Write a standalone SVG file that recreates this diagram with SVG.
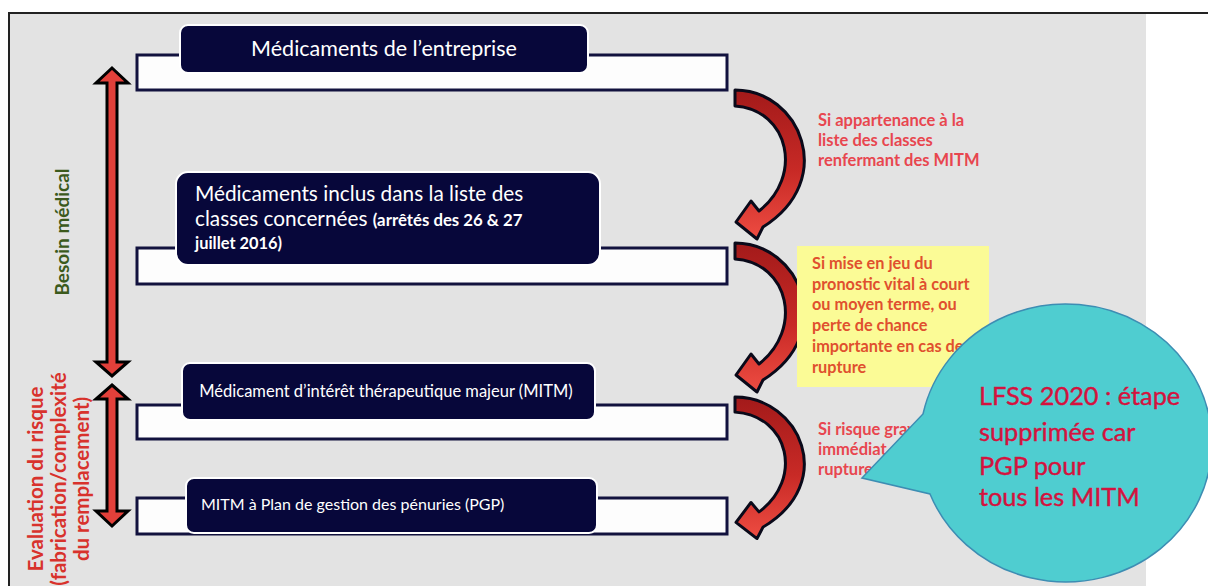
<svg xmlns="http://www.w3.org/2000/svg" width="1208" height="586" viewBox="0 0 1208 586">
<defs>
<style>
.bar{fill:#fdfdfd;stroke:#12123e;stroke-width:3}
.dark{fill:#07073a;stroke:#ffffff;stroke-width:2}
.wt{font-family:Lato,"Liberation Sans",sans-serif;fill:#ffffff}
.lbl{font-family:Lato,"Liberation Sans",sans-serif;font-weight:bold;font-size:16.5px;fill:#e8464f}
.ylw{font-family:Lato,"Liberation Sans",sans-serif;font-weight:bold;font-size:16.3px;fill:#e0502e}
.vert{fill:#e2403a;stroke:#000;stroke-width:3;stroke-linejoin:miter}
.curv{fill:url(#rg);stroke:#0a0a1a;stroke-width:3;stroke-linejoin:round}
</style>
<linearGradient id="rg" x1="0" y1="0" x2="0" y2="1">
<stop offset="0" stop-color="#a31a1a"/>
<stop offset="0.55" stop-color="#c82a26"/>
<stop offset="1" stop-color="#ee4c42"/>
</linearGradient>
<path id="carrow" d="M735,90 C800,90 838,180 763,227 L757,239 L736,222 L751,201 L759,211 C803,177 790,110 735,106 Z"/>
</defs>
<rect x="0" y="0" width="1208" height="586" fill="#ffffff"/>
<rect x="9" y="13" width="1137" height="573" fill="#e3e3e3"/>
<path d="M9,586 L9,13 L1208,13" fill="none" stroke="#222" stroke-width="2"/>

<g id="connectors">
<polygon class="vert" points="112,68 128,83 117,83 117,362 128,362 112,376 96,362 107,362 107,83 96,83"/>
<polygon class="vert" points="112,385 128,399 117,399 117,511 128,511 112,526 96,511 107,511 107,399 96,399"/>
<use href="#carrow" class="curv"/>
<use href="#carrow" class="curv" transform="translate(0,153)"/>
<use href="#carrow" class="curv" transform="translate(0,397) scale(1,0.95) translate(0,-90)"/>
</g>

<g id="label-besoin">
<text transform="translate(69,232) rotate(-90)" text-anchor="middle" font-family="Lato,'Liberation Sans',sans-serif" font-weight="bold" font-size="19" fill="#3b5a1c">Besoin médical</text>
</g>
<g id="label-evaluation" font-family="Lato,'Liberation Sans',sans-serif" font-weight="bold" font-size="20.5" fill="#d8322c" text-anchor="middle">
<text transform="translate(43,479) rotate(-90)">Evaluation du risque</text>
<text transform="translate(66,479) rotate(-90)">(fabrication/complexité</text>
<text transform="translate(89,479) rotate(-90)">du remplacement)</text>
</g>

<g id="node1">
<rect class="bar" x="137" y="55" width="590" height="35"/>
<rect class="dark" x="180" y="25" width="408" height="48" rx="8"/>
<text class="wt" x="384" y="56" text-anchor="middle" font-size="21.5">Médicaments de l’entreprise</text>
</g>
<g id="node2">
<rect class="bar" x="137" y="248" width="590" height="36"/>
<rect class="dark" x="176" y="172" width="424" height="93" rx="12"/>
<text class="wt" x="195" y="201" font-size="20.8">Médicaments inclus dans la liste des</text>
<text class="wt" x="195" y="226" font-size="20.8">classes concernées <tspan font-size="16.8" font-weight="bold">(arrêtés des 26 &amp; 27</tspan></text>
<text class="wt" x="195" y="249" font-size="16.4" font-weight="bold">juillet 2016)</text>
</g>
<g id="node3">
<rect class="bar" x="137" y="405" width="590" height="34"/>
<rect class="dark" x="182" y="363" width="413" height="57" rx="8"/>
<text class="wt" x="386" y="397" text-anchor="middle" font-size="16.5">Médicament d’intérêt thérapeutique majeur (MITM)</text>
</g>
<g id="node4">
<rect class="bar" x="137" y="498" width="590" height="36"/>
<rect class="dark" x="186" y="478" width="411" height="55" rx="8"/>
<text class="wt" x="201" y="510" font-size="16">MITM à Plan de gestion des pénuries (PGP)</text>
</g>

<g id="label-1" class="lbl">
<text x="818" y="126">Si appartenance à la</text>
<text x="818" y="146">liste des classes</text>
<text x="818" y="166">renfermant des MITM</text>
</g>
<g id="label-2">
<rect x="797" y="246" width="192" height="141" fill="#fbfb96"/>
<g class="ylw">
<text x="812" y="269">Si mise en jeu du</text>
<text x="812" y="290">pronostic vital à court</text>
<text x="812" y="310">ou moyen terme, ou</text>
<text x="812" y="331">perte de chance</text>
<text x="812" y="352">importante en cas de</text>
<text x="812" y="373">rupture</text>
</g>
</g>
<g id="label-3" class="lbl">
<text x="818" y="435">Si risque grav</text>
<text x="818" y="455">immédiat e</text>
<text x="818" y="475">rupture</text>
</g>
<g id="callout">
<path d="M862,478 L923,414 A146,139 0 1 1 930,494 Z" fill="#4fcdd0" stroke="#3d8db3" stroke-width="1.5"/>
<g font-family="Lato,'Liberation Sans',sans-serif" font-size="25.3" fill="#d4123e" stroke="#d4123e" stroke-width="0.4">
<text x="979" y="405">LFSS 2020 : étape</text>
<text x="979" y="441">supprimée car</text>
<text x="979" y="475">PGP pour</text>
<text x="979" y="506">tous les MITM</text>
</g>
</g>
</svg>
